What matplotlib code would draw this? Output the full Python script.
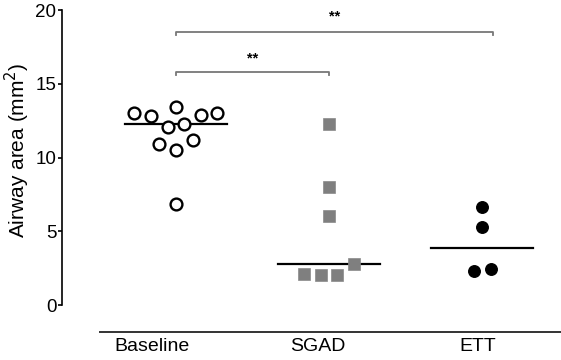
import numpy as np
from matplotlib import pyplot as plt

plt.rcParams['font.family'] = ['Liberation Sans', 'DejaVu Sans']

# values (mm^2)
groups = ['Baseline', 'SGAD', 'ETT']
baseline = [13.0, 12.8, 13.4, 12.9, 13.0, 12.1, 12.25, 10.9, 11.2, 10.5, 6.85]
sgad = [12.3, 7.98, 6.03, 2.78, 2.10, 2.05, 2.05]
ett = [6.67, 5.31, 2.30, 2.42]

# horizontal scatter of the points around each group centre
baseline_dx = [-0.276, -0.165, 0.0, 0.161, 0.27, -0.054, 0.054, -0.111, 0.109, 0.0, 0.0]
sgad_dx = [0.0, 0.0, 0.0, 0.163, -0.163, -0.054, 0.052]
ett_dx = [0.0, 0.0, -0.052, 0.057]

fig = plt.figure(figsize=(5.61, 3.6), dpi=100)
ax = fig.add_axes([0.1105, 0.0778, 0.8895, 0.908])

# baseline: open circles
ax.plot(0 + np.array(baseline_dx), baseline, 'o', ms=8.5, mfc='white',
        mec='black', mew=1.7, ls='none', clip_on=False, zorder=3)
# sgad: grey squares
ax.plot(1 + np.array(sgad_dx), sgad, 's', ms=8, mfc='#7f7f7f',
        mec='#8a8a8a', mew=0.5, ls='none', clip_on=False, zorder=3)
# ett: filled circles
ax.plot(2 + np.array(ett_dx), ett, 'o', ms=8.3, mfc='black',
        mec='black', ls='none', clip_on=False, zorder=3)

# median lines
for i, vals in enumerate([baseline, sgad, ett]):
    m = np.median(vals)
    ax.plot([i - 0.333, i + 0.333], [m, m], color='black', lw=1.6, zorder=2)

# significance brackets
def bracket(x1, x2, y, label, ty):
    ax.plot([x1, x1, x2, x2], [y - 0.22, y, y, y - 0.22], color='#777777',
            lw=1.3, clip_on=False)
    ax.text((x1 + x2) / 2, ty, label, ha='center', va='center',
            fontsize=10.5, fontweight='bold')

bracket(0, 1, 15.8, '**', 16.75)
bracket(0, 2.07, 18.55, '**', 19.6)

ax.set_xlim(-0.745, 2.516)
ax.set_ylim(-1.83, 20.34)

ax.spines['top'].set_visible(False)
ax.spines['right'].set_visible(False)
ax.spines['left'].set_bounds(0, 20)
ax.spines['bottom'].set_bounds(-0.497, 2.516)
ax.spines['left'].set_linewidth(1.2)
ax.spines['bottom'].set_linewidth(1.4)
ax.spines['bottom'].set_color('#333333')

ax.set_yticks([0, 5, 10, 15, 20])
ax.tick_params(axis='y', length=3, width=1.2, labelsize=13.5, pad=1)
ax.set_xticks([-0.155, 0.93, 1.97])
ax.set_xticklabels(groups)
ax.tick_params(axis='x', length=0, labelsize=14, pad=4)

ax.set_ylabel('Airway area (mm$^2$)', fontsize=15)
ax.yaxis.set_label_coords(-0.061, 0.557)

plt.savefig('out.png', dpi=100)
